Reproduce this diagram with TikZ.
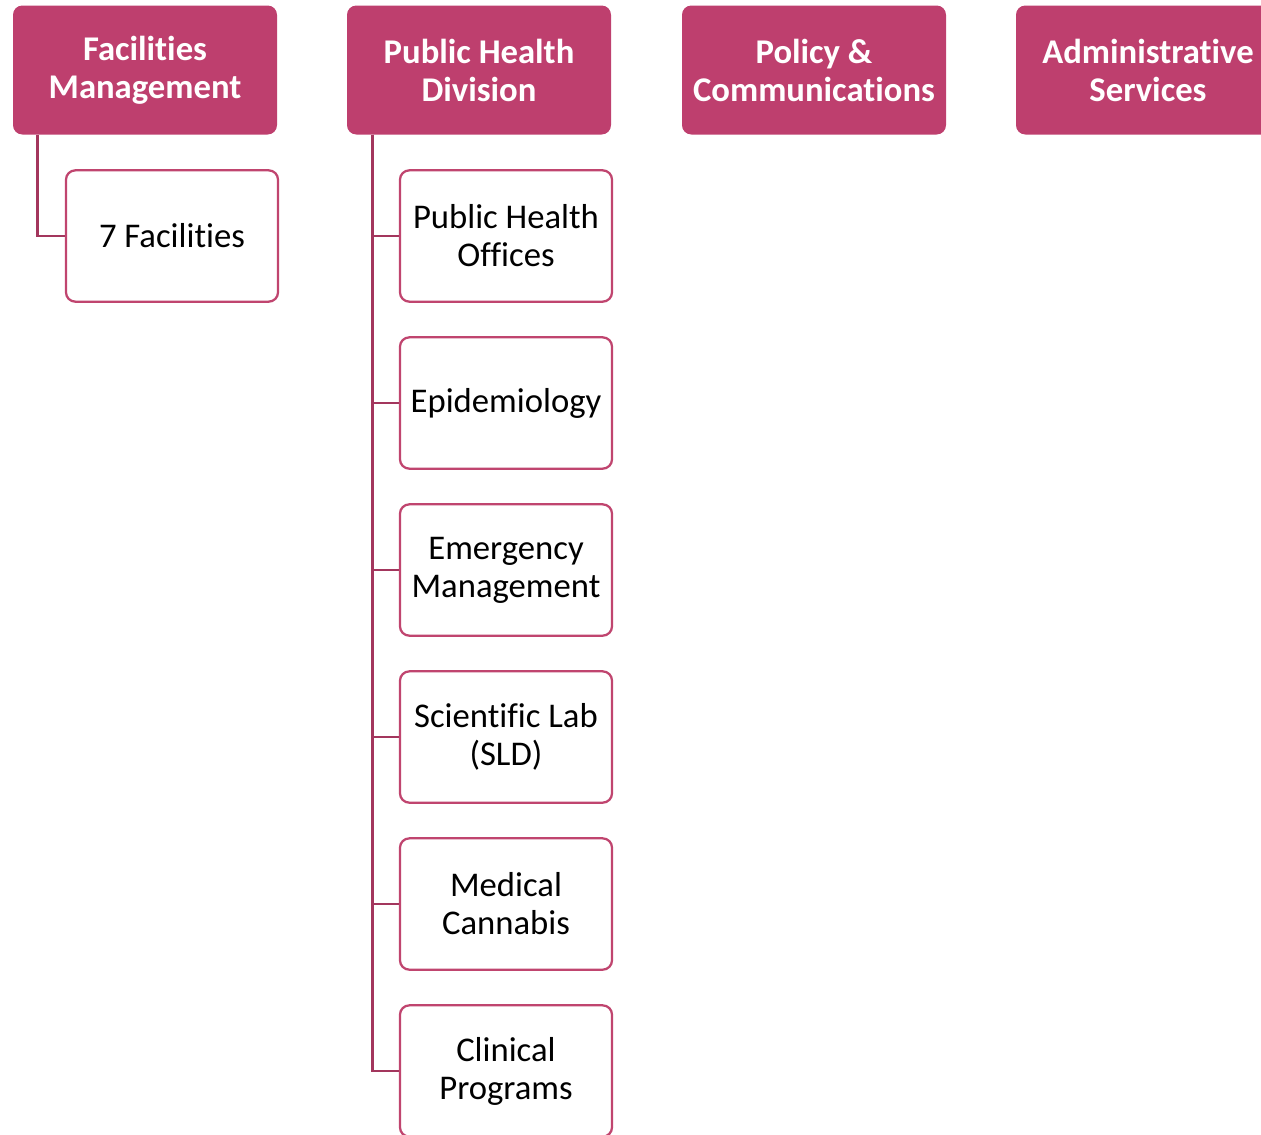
\documentclass[tikz,border=0pt]{standalone}
\usepackage{fontspec}
\setmainfont{Carlito}[Ligatures=NoCommon]
\definecolor{headfill}{HTML}{BE3F6E}
\definecolor{unitline}{HTML}{C0456F}
\definecolor{linkline}{HTML}{A3365D}

\begin{document}
\begin{tikzpicture}[x=0.75pt,y=-0.75pt,
  head/.style={rounded corners=7pt,fill=headfill,text=white,font=\bfseries\fontsize{26}{28.5}\selectfont,
    align=center,minimum width=198pt,minimum height=96.75pt,inner sep=0pt},
  unit/.style={rounded corners=7pt,draw=unitline,line width=1.7pt,fill=white,text=black,
    font=\fontsize{26}{28.5}\selectfont,align=center,minimum width=159pt,minimum height=98.5pt,inner sep=0pt},
  link/.style={draw=linkline,line width=1.9pt}]
\clip (0,0) rectangle (1261,1135);
\node[head] (fm) at (145,70) {Facilities\\Management};
\node[head] (phd) at (479,70) {Public Health\\Division};
\node[head] (pc) at (814,70) {Policy \&\\Communications};
\node[head] (as) at (1148,70) {Administrative\\Services};

\node[unit] (fac) at (172,236) {7 Facilities};
\draw[link] ([xshift=18.75pt]fm.south west) |- (fac.west);

\foreach \name/\txt [count=\k from 0] in {pho/{Public Health\\Offices},epi/Epidemiology,
    emg/{Emergency\\Management},sld/{Scientific Lab\\(SLD)},mc/{Medical\\Cannabis},cp/{Clinical\\Programs}} {
  \node[unit] (\name) at (506,236+\k*167) {\txt};
  \draw[link] ([xshift=19.5pt]phd.south west) |- (\name.west);
}
\end{tikzpicture}
\end{document}
